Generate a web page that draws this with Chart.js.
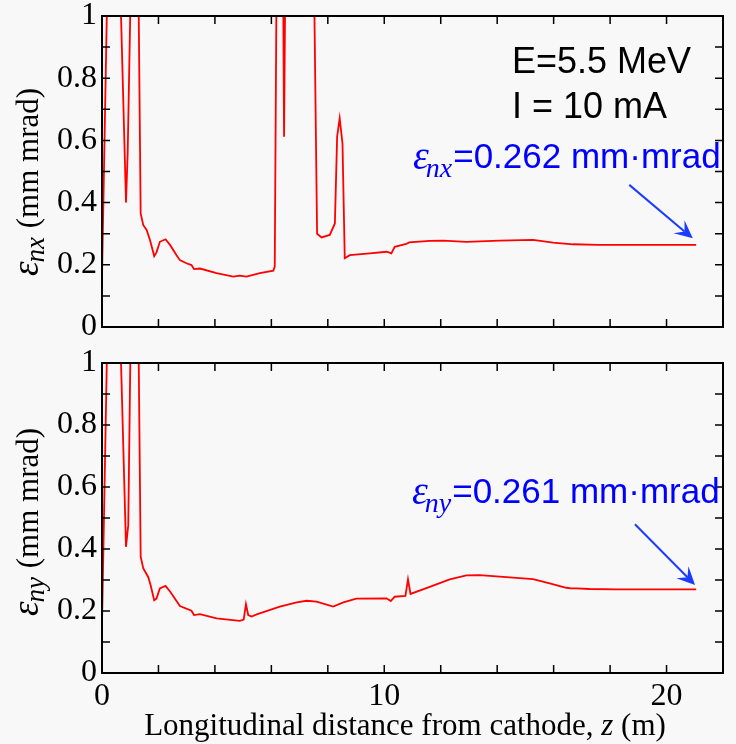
<!DOCTYPE html>
<html>
<head>
<meta charset="utf-8">
<script src="https://cdn.jsdelivr.net/npm/chart.js@4.4.1/dist/chart.umd.min.js"></script>
<style>
  html, body { margin: 0; padding: 0; background: #f8f8f8; }
  #wrap { position: relative; width: 736px; height: 744px; }
  canvas { position: absolute; left: 0; top: 0; }
</style>
</head>
<body>
<div id="wrap">
  <canvas id="topChart" width="736" height="744"></canvas>
  <canvas id="bottomChart" width="736" height="744"></canvas>
</div>
<script>
// z positions (m) and normalized emittance (mm mrad)
// values above 1 are off the top of the axis and get clipped
const zTop = [0, 0.2, 0.63, 0.85, 0.91, 1.03, 1.28, 1.37, 1.46, 1.58, 1.70, 1.85, 1.93, 2.05, 2.25, 2.41,
  2.64, 2.76, 2.99, 3.17, 3.26, 3.47, 4.06, 4.65, 4.88, 5.12, 5.59, 6.07, 6.12, 6.19, 6.41, 6.45,
  6.50, 7.50, 7.62, 7.78, 8.07, 8.25, 8.33, 8.42, 8.52, 8.60, 8.78, 9.49, 10.08, 10.25, 10.37,
  10.78, 10.88, 11.61, 12.08, 12.91, 14.09, 15.27, 15.98, 16.68, 17.6, 21.05];
const emitX = [0.158, 1.15, 1.15, 0.40, 0.56, 1.15, 1.2, 0.365, 0.328, 0.312, 0.28, 0.228, 0.24, 0.274, 0.282, 0.264,
  0.231, 0.215, 0.205, 0.199, 0.186, 0.188, 0.173, 0.162, 0.165, 0.162, 0.173, 0.181, 0.194, 1.2, 1.2, 0.612,
  1.2, 1.2, 0.30, 0.288, 0.296, 0.333, 0.612, 0.671, 0.59, 0.221, 0.231, 0.237, 0.242, 0.237, 0.258,
  0.267, 0.272, 0.277, 0.278, 0.274, 0.278, 0.280, 0.271, 0.266, 0.264, 0.264];

const zBottom = [0, 0.2, 0.63, 0.85, 0.93, 1.03, 1.28, 1.37, 1.46, 1.64, 1.72, 1.85, 1.93, 2.05, 2.25, 2.41,
  2.64, 2.76, 3.17, 3.26, 3.47, 4.06, 4.88, 5.02, 5.10, 5.18, 5.30, 5.48, 6.30, 6.90, 7.25, 7.60, 8.19,
  8.55, 9.01, 10.08, 10.23, 10.37, 10.75, 10.84, 10.93, 11.61, 12.32, 12.91, 13.38, 14.09, 15.27,
  15.86, 16.45, 16.62, 16.80, 17.27, 18.22, 21.05];
const emitY = [0.155, 1.15, 1.15, 0.407, 0.477, 1.2, 1.2, 0.375, 0.338, 0.309, 0.284, 0.235, 0.24, 0.273, 0.281, 0.263,
  0.232, 0.216, 0.201, 0.187, 0.19, 0.176, 0.168, 0.172, 0.222, 0.187, 0.182, 0.189, 0.214, 0.228, 0.233, 0.230, 0.214,
  0.228, 0.240, 0.241, 0.232, 0.246, 0.249, 0.302, 0.255, 0.278, 0.302, 0.315, 0.316, 0.311, 0.303,
  0.289, 0.275, 0.273, 0.273, 0.271, 0.270, 0.270];

const xTickLabels = [0, 10, 20];
const yTickLabels = [0, 0.2, 0.4, 0.6, 0.8, 1];

const SERIF = '"Liberation Serif", "Times New Roman", serif';
const SANS = '"Liberation Sans", Arial, sans-serif';
const BLUE = '#0000ff';

// box around the plot + inward ticks on all four sides
const framePlugin = {
  id: 'frame',
  afterDraw(chart) {
    const { ctx, chartArea: a, scales: { x, y } } = chart;
    ctx.save();
    ctx.strokeStyle = '#000';
    ctx.lineWidth = 2;
    ctx.strokeRect(a.left, a.top, a.right - a.left, a.bottom - a.top);
    ctx.lineWidth = 1.5;
    ctx.beginPath();
    x.ticks.forEach((t) => {
      const px = x.getPixelForValue(t.value);
      ctx.moveTo(px, a.bottom); ctx.lineTo(px, a.bottom - 8);
      ctx.moveTo(px, a.top); ctx.lineTo(px, a.top + 8);
    });
    y.ticks.forEach((t) => {
      const py = y.getPixelForValue(t.value);
      ctx.moveTo(a.left, py); ctx.lineTo(a.left + 8, py);
      ctx.moveTo(a.right, py); ctx.lineTo(a.right - 8, py);
    });
    ctx.stroke();
    ctx.restore();
  }
};

// y title with subscript, blue note + arrow, extra text
const textPlugin = {
  id: 'panelText',
  afterDraw(chart, args, opts) {
    const { ctx, scales: { x, y } } = chart;
    ctx.save();
    ctx.textBaseline = 'alphabetic';
    ctx.textAlign = 'left';

    // rotated y axis title: ε_sub (mm mrad)
    const fEps = 'italic 37px ' + SERIF;
    const fSub = 'italic 27px ' + SERIF;
    const fMain = '31px ' + SERIF;
    ctx.font = fEps; const wE = ctx.measureText('ε').width;
    ctx.font = fSub; const wS = ctx.measureText(opts.sub).width;
    ctx.font = fMain; const wM = ctx.measureText(' (mm mrad)').width;
    ctx.translate(opts.titleX, opts.titleY);
    ctx.rotate(-Math.PI / 2);
    let u = -(wE + wS + wM) / 2;
    ctx.fillStyle = '#000';
    ctx.font = fEps; ctx.fillText('ε', u, 0); u += wE;
    ctx.font = fSub; ctx.fillText(opts.sub, u - 1, 6); u += wS;
    ctx.font = fMain; ctx.fillText(' (mm mrad)', u, 0);
    ctx.setTransform(1, 0, 0, 1, 0, 0);

    // extra lines (beam parameters)
    ctx.font = '36px ' + SANS;
    (opts.lines || []).forEach((l) => ctx.fillText(l.text, l.x, l.y));

    // blue note
    ctx.fillStyle = BLUE;
    let nx = opts.noteX;
    ctx.font = 'italic 40px ' + SERIF;
    ctx.fillText('ε', nx, opts.noteY + 1);
    nx += ctx.measureText('ε').width - 3;
    ctx.font = 'italic 28px ' + SERIF;
    ctx.fillText(opts.sub, nx, opts.noteY + 9);
    nx += ctx.measureText(opts.sub).width + 1;
    ctx.font = '35px ' + SANS;
    ctx.fillText(opts.note, nx, opts.noteY);

    // arrow, given in data coordinates
    const x0 = x.getPixelForValue(opts.arrow[0]), y0 = y.getPixelForValue(opts.arrow[1]);
    const x1 = x.getPixelForValue(opts.arrow[2]), y1 = y.getPixelForValue(opts.arrow[3]);
    const len = Math.hypot(x1 - x0, y1 - y0);
    const dx = (x1 - x0) / len, dy = (y1 - y0) / len;
    const L = 18, W = 8.5;
    ctx.strokeStyle = '#1a3cff';
    ctx.fillStyle = '#1a3cff';
    ctx.lineWidth = 2;
    ctx.beginPath();
    ctx.moveTo(x0, y0);
    ctx.lineTo(x1 - dx * L * 0.6, y1 - dy * L * 0.6);
    ctx.stroke();
    ctx.beginPath();
    ctx.moveTo(x1, y1);
    ctx.lineTo(x1 - dx * L - dy * W, y1 - dy * L + dx * W);
    ctx.lineTo(x1 - dx * L * 0.6, y1 - dy * L * 0.6);
    ctx.lineTo(x1 - dx * L + dy * W, y1 - dy * L - dx * W);
    ctx.closePath();
    ctx.fill();

    // x axis title, with italic z
    if (opts.xTitle) {
      ctx.fillStyle = '#000';
      const a = 'Longitudinal distance from cathode, ', b = 'z', c = ' (m)';
      ctx.font = '31px ' + SERIF; const wa = ctx.measureText(a).width, wc = ctx.measureText(c).width;
      ctx.font = 'italic 31px ' + SERIF; const wb = ctx.measureText(b).width;
      let tx = opts.xTitleX - (wa + wb + wc) / 2;
      ctx.font = '31px ' + SERIF; ctx.fillText(a, tx, opts.xTitleY); tx += wa;
      ctx.font = 'italic 31px ' + SERIF; ctx.fillText(b, tx, opts.xTitleY); tx += wb;
      ctx.font = '31px ' + SERIF; ctx.fillText(c, tx, opts.xTitleY);
    }
    ctx.restore();
  }
};

function toPoints(zs, vs) {
  return zs.map((z, i) => ({ x: z, y: vs[i] }));
}

function makePanel(id, zs, vs, padding, xHeight, showXLabels, textOpts) {
  const ctx = document.getElementById(id).getContext('2d');
  return new Chart(ctx, {
    type: 'line',
    data: {
      datasets: [{
        data: toPoints(zs, vs),
        borderColor: '#ff0000',
        borderWidth: 1.8,
        pointRadius: 0,
        fill: false,
        tension: 0,
      }],
    },
    options: {
      responsive: false,
      animation: false,
      devicePixelRatio: 1,
      events: [],
      layout: { padding: padding },
      plugins: {
        legend: { display: false },
        tooltip: { enabled: false },
        panelText: textOpts,
      },
      scales: {
        x: {
          type: 'linear',
          min: 0,
          max: 22,
          grid: { display: false, drawTicks: false },
          border: { display: false },
          ticks: {
            display: showXLabels,
            stepSize: 2,
            autoSkip: false,
            maxRotation: 0,
            padding: 8,
            color: '#000',
            font: { family: SERIF, size: 32, lineHeight: 1 },
            callback: (v) => (xTickLabels.includes(v) ? String(v) : ''),
          },
          afterFit: (s) => { s.height = xHeight; s.paddingLeft = 0; s.paddingRight = 0; },
        },
        y: {
          min: 0,
          max: 1,
          grid: { display: false, drawTicks: false },
          border: { display: false },
          ticks: {
            stepSize: 0.1,
            autoSkip: false,
            padding: 5,
            color: '#000',
            font: { family: SERIF, size: 32, lineHeight: 1 },
            callback: (v) => {
              const r = Math.round(v * 10) / 10;
              return yTickLabels.includes(r) ? String(r) : '';
            },
          },
          afterFit: (s) => { s.width = 102; s.paddingTop = 0; s.paddingBottom = 0; },
        },
      },
    },
    plugins: [framePlugin, textPlugin],
  });
}

makePanel('topChart', zTop, emitX, { top: 16, right: 13, bottom: 404, left: 0 }, 13, false, {
  sub: 'nx',
  titleX: 38, titleY: 182,
  lines: [{ text: 'E=5.5 MeV', x: 512, y: 73 }, { text: 'I = 10 mA', x: 512, y: 118 }],
  noteX: 413, noteY: 168, note: '=0.262 mm·mrad',
  arrow: [18.68, 0.457, 20.93, 0.285],
});

makePanel('bottomChart', zBottom, emitY, { top: 363, right: 13, bottom: 0, left: 0 }, 71, true, {
  sub: 'ny',
  titleX: 38, titleY: 522,
  noteX: 412, noteY: 503, note: '=0.261 mm·mrad',
  arrow: [18.88, 0.480, 21.01, 0.284],
  xTitle: true, xTitleX: 405, xTitleY: 735,
});
</script>
</body>
</html>
